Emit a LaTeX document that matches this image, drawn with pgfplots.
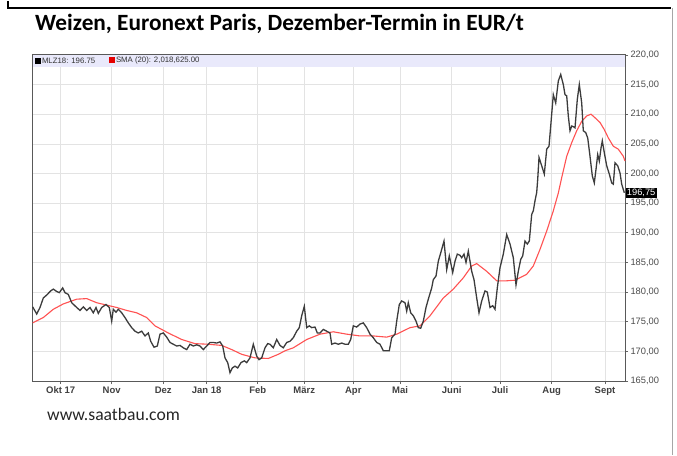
\documentclass[border=0pt]{standalone}
\usepackage{pgfplots}
\pgfplotsset{compat=1.18}
\usepackage{fontspec}
\setmainfont{Liberation Sans}
\newfontfamily\calibri{Carlito}

\definecolor{kurs}{HTML}{3C3C3C}
\definecolor{sma}{HTML}{FF5252}
\definecolor{gitter}{HTML}{E3E3E3}
\definecolor{band}{HTML}{E9E9FB}

% MLZ18 Schlusskurs (x = Position auf der Zeitachse)
\pgfplotstableread{
x v
32.7 177.5
36.7 176.3
40 177.4
43.3 179.0
46.7 179.5
50.7 180.2
53.3 180.5
56.7 180.1
59.3 179.9
62.7 180.7
65 179.9
68.3 179.6
71.7 178.2
76.7 177.4
80 176.9
83.3 177.5
86.7 176.9
90 177.4
93.3 176.5
96 177.4
98.3 176.4
101.7 177.4
106 177.9
109.3 177.4
111.7 175.1
113.3 177.1
116 176.6
118.3 177.1
121.7 176.5
125 175.7
128.3 174.8
131.7 174.0
135 173.4
138.3 173.1
141.7 173.4
145 172.6
148.3 173.1
150.7 171.7
154 170.7
157.3 170.9
160 172.9
163.3 173.1
166.7 172.4
170 171.5
173.3 171.2
176.7 170.9
180 171.0
183.3 170.6
186.7 170.3
190 171.2
193.3 170.9
196.7 171.1
200 170.9
203.3 170.3
206.7 170.9
210 171.5
213.3 171.5
216.7 171.4
220 171.6
222.7 170.9
225 168.9
227.7 168.1
230 166.4
232.3 167.2
235 167.5
237.7 167.2
241 168.1
244.3 168.4
246.7 168.1
250 168.9
253.3 171.2
256.7 169.2
259 168.6
261.7 168.9
265 170.6
267.7 171.3
270 171.2
273.3 170.6
276.7 172.0
280 171.0
283.3 170.6
286.7 171.5
290 171.7
293.3 172.3
296.7 173.4
299.3 174.0
301.7 176.0
304.3 177.6
306.7 174.0
309.3 174.3
311.7 174.0
315 174.1
317.3 173.1
320 173.1
323.3 173.7
326.7 173.4
330 173.1
331.7 171.2
335 171.4
338.3 171.2
341.7 171.4
345 171.2
348.3 171.2
350.7 172.0
353.3 174.3
356.7 174.1
360 174.6
363.3 174.8
366.7 174.0
370 172.9
373.3 172.3
376.7 171.5
380 171.2
383.3 170.1
386.7 170.1
389.3 170.1
391.7 172.3
395 172.9
396.7 175.1
399.3 177.9
401.7 178.5
405 178.2
406.7 176.8
408.3 178.2
410.7 176.5
413.3 176.0
416 175.1
418.3 174.0
420.7 173.9
423.3 175.1
426 177.4
428.3 178.8
431.7 180.7
433.3 182.1
436 182.7
438.3 185.2
440.7 186.6
444 188.6
446.7 183.8
449.3 186.1
452.7 183.3
455 185.2
457.3 186.4
460 186.2
461.7 185.8
464 186.4
466 185.0
468.3 186.9
471.7 183.5
474 182.1
476.7 179.0
479 176.5
481.7 178.5
485 180.2
487.3 180.0
490 177.4
492.7 177.7
495 177.1
497.3 180.7
500 184.1
503.3 186.4
506.7 189.7
510 188.1
513.3 185.8
516 181.2
518.3 183.5
520.7 185.5
522.7 186.1
525 188.6
527.3 188.1
529.3 188.6
531.7 193.1
533.3 193.7
535 195.4
536.7 196.8
537.7 199.0
539 202.7
541.7 201.3
544.3 199.9
546.7 204.1
549 204.6
551 208.6
553.3 213.3
555.7 211.9
558.3 215.6
560.7 216.7
563.3 215.0
565 213.3
566.7 213.1
568.3 209.7
570 207.2
571.7 208.0
573.3 207.9
575 207.7
577.3 212.5
579.3 215.0
581.7 211.9
583.3 207.2
585.7 206.9
587.7 206.0
590 202.9
592.3 199.6
594.3 198.4
596 200.7
597.7 203.2
599.3 202.1
601 204.3
602.3 205.5
604.3 203.5
606.7 201.3
609.3 199.9
611.7 198.4
613.3 198.2
615 201.8
617.7 201.3
620 200.1
621.7 198.2
624.3 196.75
}\kurstab

% SMA (20)
\pgfplotstableread{
x v
32.7 174.8
43.3 175.7
53.3 177.1
63.3 178.0
76.7 178.8
86.7 178.9
96.7 178.2
106.7 177.8
116.7 177.4
126.7 176.9
136.7 176.5
146.7 175.7
155 174.3
168.3 173.1
181.7 172.0
195 171.3
208.3 171.2
221.7 171.0
231.7 170.3
241.7 169.5
255 168.9
268.3 168.8
278.3 169.5
285 170.1
293.3 170.6
306.7 172.0
320 172.9
333.3 173.3
346.7 172.9
360 172.6
373.3 172.6
386.7 172.4
396.7 172.9
410 174.0
420 174.3
430 176.0
443.3 179.0
453.3 180.5
463.3 182.4
471.7 184.4
476.7 184.8
486.7 183.5
496.7 181.9
506.7 181.9
515 182.0
526.7 183.0
533.3 184.4
540 187.2
546.7 190.3
553.3 193.7
558.3 196.7
561.7 199.3
566.7 202.9
571.7 205.2
576.7 207.2
581.7 208.8
586.7 209.7
591 210.0
595 209.4
600 208.6
604.3 207.4
608.3 206.0
613.3 204.6
618.3 204.1
623.3 202.9
625 202.1
}\smatab

\begin{document}
\begin{tikzpicture}[x=1pt,y=1pt]
\fill[white] (0,0) rectangle (677,454);
\draw[black,line width=2pt] (8,454) -- (8,447) -- (671,447);
\draw[black!35,line width=0.8pt] (672,447) -- (672,0);
\node[anchor=base west,inner sep=0pt,font=\calibri\bfseries\fontsize{23.3}{27}\selectfont] at (35,424) {Weizen, Euronext Paris, Dezember-Termin in EUR/t};
\node[anchor=base west,inner sep=0pt,font=\calibri\fontsize{17.6}{20}\selectfont,text=black!85] at (47,35) {www.saatbau.com};
\begin{axis}[
    at={(32.7pt,74pt)}, anchor=south west,
    scale only axis, width=592.3pt, height=326.1pt,
    xmin=32.7, xmax=625, ymin=165, ymax=220,
    clip=false,
    axis line style={draw=black!65,line width=1pt},
    grid=major, grid style={gitter,line width=0.6pt},
    xtick={60.7,111.7,163.3,206.7,257.7,304.3,353.3,400,451.7,500,551.7,605},
    xticklabels={Okt 17,Nov,Dez,Jan 18,Feb,März,Apr,Mai,Juni,Juli,Aug,Sept},
    ytick={165,170,...,220},
    yticklabel pos=right, xtick pos=bottom, ytick pos=right,
    tick align=outside, major tick length=3pt,
    tick style={black!60,line width=0.6pt},
    xticklabel style={font=\bfseries\fontsize{9.5}{10}\selectfont,text=black!75,yshift=1pt},
    yticklabel style={font=\fontsize{9.3}{10}\selectfont,text=black!70,xshift=-1pt,
        /pgf/number format/.cd,fixed,fixed zerofill,precision=2,use comma,1000 sep={}},
    /pgf/number format/assume math mode=true,
]
\fill[band] (axis cs:32.7,218.0) rectangle (axis cs:625,220);
\node[anchor=west,inner sep=0pt,font=\fontsize{7.8}{8}\selectfont,text=black!80] at (axis cs:35,219.0)
    {\textcolor{black}{\rule{5.5pt}{5.5pt}}\,MLZ18: 196.75};
\node[anchor=west,inner sep=0pt,font=\fontsize{7.8}{8}\selectfont,text=black!80] at (axis cs:109,219.0)
    {\textcolor{red!90!black}{\rule{5.5pt}{5.5pt}}\,SMA (20): 2,018,625.00};
\addplot[sma,line width=1.1pt,no marks] table[x=x,y=v] {\smatab};
\addplot[kurs,line width=1.3pt,no marks] table[x=x,y=v] {\kurstab};
\node[anchor=west,fill=black,text=white,inner sep=1.2pt,font=\fontsize{9.3}{10}\selectfont] at (axis cs:625.5,196.75) {196,75};
\end{axis}
\end{tikzpicture}
\end{document}
